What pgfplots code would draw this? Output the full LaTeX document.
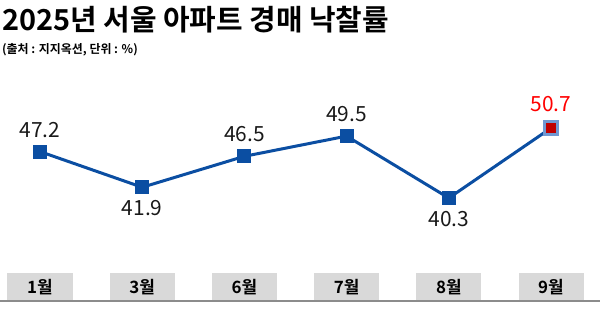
\documentclass[border=0pt]{standalone}
\usepackage{pgfplots}
\pgfplotsset{compat=1.18}
\usepackage{fontspec}
\setmainfont{Noto Sans CJK KR}[BoldFont={Noto Sans CJK KR Bold}]
\definecolor{lineblue}{HTML}{0B4EA2}
\definecolor{ringblue}{HTML}{7098D2}
\definecolor{markred}{HTML}{C00000}
\definecolor{boxgray}{HTML}{D9D9D9}
\begin{document}
\begin{tikzpicture}[x=1bp,y=1bp]
\path[use as bounding box] (0,0) rectangle (600,324);
\node[anchor=west, inner sep=0pt, font=\bfseries\fontsize{29}{32}\selectfont] at (2,304) {2025년 서울 아파트 경매 낙찰률};
\node[anchor=west, inner sep=0pt, font=\bfseries\fontsize{12}{14}\selectfont] at (2,274) {(출처 : 지지옥션, 단위 : \%)};
\begin{axis}[
  at={(40bp,90.3bp)}, anchor=south west,
  scale only axis, width=511bp, height=134.6bp,
  xmin=0, xmax=5, ymin=35, ymax=55,
  axis line style={draw=none},
  ytick=\empty,
  xtick={0,1,2,3,4,5},
  xticklabels={1월,3월,6월,7월,8월,9월},
  major tick length=0pt,
  xticklabel style={anchor=center, yshift=-53.3bp, fill=boxgray, minimum width=65bp, minimum height=28bp, inner sep=0pt, font=\bfseries\fontsize{17}{17}\selectfont, text=black},
  clip=false,
]
\addplot[color=lineblue, line width=3bp, mark=square*, mark size=6.5bp, mark options={fill=lineblue, draw=lineblue, line width=0pt}]
  coordinates {(0,47.2)(1,41.9)(2,46.5)(3,49.5)(4,40.3)(5,50.7)};
\addplot[only marks, mark=square*, mark size=6.5bp, mark options={fill=markred, draw=ringblue, line width=3.5bp}]
  coordinates {(5,50.7)};
\addplot[draw=none, mark=none, point meta=explicit symbolic, nodes near coords,
  every node near coord/.append style={anchor=center, yshift=22bp, font=\fontsize{21}{21}\selectfont, text=black!90}]
  coordinates {(0,47.2)[47.2] (2,46.5)[46.5] (3,49.5)[49.5]};
\addplot[draw=none, mark=none, point meta=explicit symbolic, nodes near coords,
  every node near coord/.append style={anchor=center, yshift=-21bp, font=\fontsize{21}{21}\selectfont, text=black!90}]
  coordinates {(1,41.9)[41.9] (4,40.3)[40.3]};
\addplot[draw=none, mark=none, point meta=explicit symbolic, nodes near coords,
  every node near coord/.append style={anchor=center, yshift=24bp, font=\fontsize{21}{21}\selectfont, text=red}]
  coordinates {(5,50.7)[50.7]};
\end{axis}
\draw[black!45, line width=1.2bp] (0,23) -- (600,23);
\end{tikzpicture}
\end{document}
